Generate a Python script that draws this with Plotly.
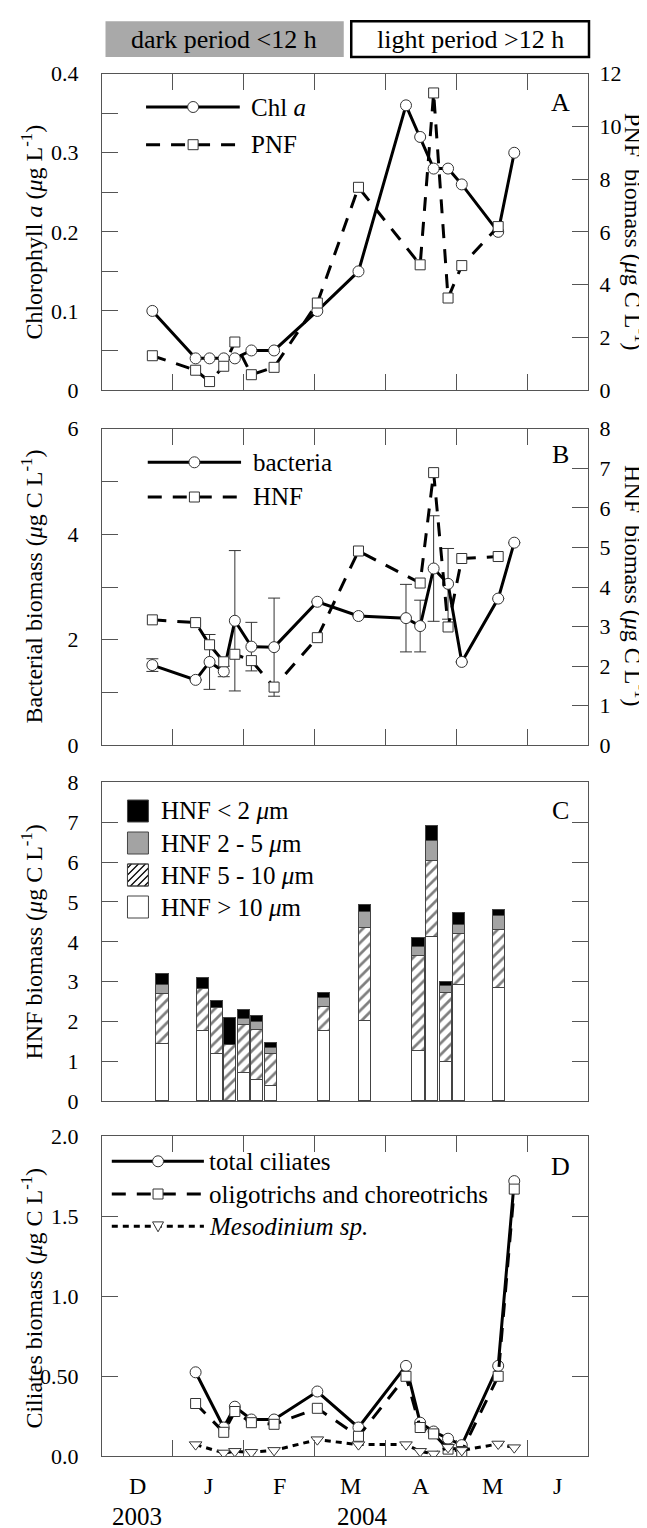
import plotly.graph_objects as go

W, H = 647, 1528
L_PX, R_PX = 93.5, 580.0
PW = R_PX - L_PX
XMAX = 205.6  # days since 1 Dec 2003 at right frame

# ---------------- data ----------------
days = [21.3, 39.6, 45.5, 51.5, 56.2, 63.2, 72.8, 91.1, 108.5, 128.6, 134.6, 140.3, 146.4, 152.2, 167.6, 174.4]
chl_a = [0.10, 0.04, 0.04, 0.04, 0.04, 0.05, 0.05, 0.10, 0.15, 0.36, 0.32, 0.28, 0.28, 0.26, 0.20, 0.30]

pnf_days = [21.3, 39.6, 45.5, 51.5, 56.2, 63.2, 72.8, 91.1, 108.5, 134.6, 140.3, 146.4, 152.2, 167.6]
pnf = [1.30, 0.75, 0.32, 0.90, 1.82, 0.58, 0.86, 3.30, 7.69, 4.75, 11.27, 3.49, 4.72, 6.20]

bacteria = [1.52, 1.24, 1.58, 1.40, 2.36, 1.87, 1.86, 2.72, 2.45, 2.41, 2.26, 3.35, 3.06, 1.58, 2.78, 3.84]
bacteria_err = [0.12, 0, 0.52, 0.10, 1.33, 0.46, 0.93, 0, 0, 0.64, 0.49, 1.00, 0.67, 0, 0, 0]

hnf_days = [21.3, 39.6, 45.5, 51.5, 56.2, 63.2, 72.8, 91.1, 108.5, 134.6, 140.3, 146.4, 152.2, 167.6]
hnf = [3.17, 3.10, 2.54, 2.11, 2.30, 2.14, 1.47, 2.72, 4.91, 4.10, 6.89, 2.99, 4.72, 4.77]

bar_days = [25.6, 42.8, 48.5, 54.2, 59.9, 65.6, 71.3, 94.1, 111.2, 133.9, 139.6, 145.4, 151.0, 168.1]
hnf_gt10 = [1.44, 1.76, 1.19, 0.00, 0.69, 0.52, 0.38, 1.76, 2.01, 1.25, 4.11, 0.98, 2.92, 2.83]
hnf_5_10 = [1.25, 1.06, 1.15, 1.40, 1.21, 1.25, 0.81, 0.61, 2.33, 2.39, 1.90, 1.72, 1.26, 1.46]
hnf_2_5 = [0.21, 0.00, 0.00, 0.00, 0.15, 0.22, 0.15, 0.22, 0.39, 0.21, 0.51, 0.18, 0.23, 0.35]
hnf_lt2 = [0.28, 0.27, 0.17, 0.67, 0.23, 0.14, 0.11, 0.12, 0.19, 0.23, 0.38, 0.11, 0.30, 0.14]

cil_days = [39.6, 51.5, 56.2, 63.2, 72.8, 91.1, 108.5, 128.6, 134.6, 140.3, 146.4, 152.2, 167.6, 174.4]
total_ciliates = [0.525, 0.18, 0.31, 0.23, 0.23, 0.405, 0.18, 0.565, 0.21, 0.155, 0.11, 0.07, 0.565, 1.72]
oligo_choreo = [0.33, 0.15, 0.28, 0.21, 0.20, 0.30, 0.125, 0.50, 0.18, 0.14, 0.045, 0.03, 0.50, 1.67]
mesodinium = [0.073, 0.021, 0.031, 0.025, 0.037, 0.104, 0.073, 0.073, 0.031, 0.015, 0.056, 0.037, 0.077, 0.054]

month_starts = [0, 30, 60, 90, 120, 150, 180]
month_labels = ["D", "J", "F", "M", "A", "M", "J"]
year_labels = ["2003", "2004"]
year_pos = [15, 110]

# ---------------- helpers ----------------
def px(x):
    return (x - L_PX) / PW

def py(y):
    return 1 - y / H

def ydom(top, bot):
    return [1 - bot / H, 1 - top / H]

FONT = "'Liberation Serif', 'Times New Roman', 'DejaVu Serif', serif"
GREY = "#555555"
MK_LINE = dict(color="#333333", width=1)

panels = {"A": (65.7, 382.0), "B": (420.7, 737.3), "C": (774.3, 1093.3), "D": (1128.3, 1448.3)}

fig = go.Figure()

# Panel A
fig.add_trace(go.Scatter(x=days, y=chl_a, xaxis="x", yaxis="y", mode="lines+markers",
                         line=dict(color="black", width=3),
                         marker=dict(symbol="circle", size=11, color="white", line=MK_LINE)))
fig.add_trace(go.Scatter(x=pnf_days, y=pnf, xaxis="x", yaxis="y2", mode="lines+markers",
                         line=dict(color="black", width=3, dash="14px,11px"),
                         marker=dict(symbol="square", size=10, color="white", line=MK_LINE)))

# Panel B
fig.add_trace(go.Scatter(x=days, y=bacteria, xaxis="x2", yaxis="y3", mode="lines+markers",
                         line=dict(color="black", width=3),
                         error_y=dict(type="data", array=bacteria_err, visible=True,
                                      color="#333333", thickness=1, width=6),
                         marker=dict(symbol="circle", size=11, color="white", line=MK_LINE)))
fig.add_trace(go.Scatter(x=hnf_days, y=hnf, xaxis="x2", yaxis="y4", mode="lines+markers",
                         line=dict(color="black", width=3, dash="14px,11px"),
                         marker=dict(symbol="square", size=10, color="white", line=MK_LINE)))

# Panel C (stacked bars)
bar_line = dict(color="#444444", width=1)
BW = 5.1
fig.add_trace(go.Bar(x=bar_days, y=hnf_gt10, width=BW, xaxis="x3", yaxis="y5",
                     marker=dict(color="white", line=bar_line)))
fig.add_trace(go.Bar(x=bar_days, y=hnf_5_10, width=BW, xaxis="x3", yaxis="y5",
                     marker=dict(color="white", line=bar_line,
                                 pattern=dict(shape="/", fgcolor="black", bgcolor="white",
                                              size=8, solidity=0.34))))
fig.add_trace(go.Bar(x=bar_days, y=hnf_2_5, width=BW, xaxis="x3", yaxis="y5",
                     marker=dict(color="#a3a3a3", line=bar_line)))
fig.add_trace(go.Bar(x=bar_days, y=hnf_lt2, width=BW, xaxis="x3", yaxis="y5",
                     marker=dict(color="black", line=bar_line)))

# Panel D
fig.add_trace(go.Scatter(x=cil_days, y=total_ciliates, xaxis="x4", yaxis="y6", mode="lines+markers",
                         line=dict(color="black", width=3),
                         marker=dict(symbol="circle", size=11, color="white", line=MK_LINE)))
fig.add_trace(go.Scatter(x=cil_days, y=oligo_choreo, xaxis="x4", yaxis="y6", mode="lines+markers",
                         line=dict(color="black", width=3, dash="14px,11px"),
                         marker=dict(symbol="square", size=10, color="white", line=MK_LINE)))
fig.add_trace(go.Scatter(x=cil_days, y=mesodinium, xaxis="x4", yaxis="y6", mode="lines+markers",
                         line=dict(color="black", width=3, dash="6px,5px"),
                         marker=dict(symbol="triangle-down", size=11, color="white", line=MK_LINE)))

# ---------------- axes ----------------
base = dict(showline=True, linecolor=GREY, linewidth=1.3, ticks="inside", ticklen=16,
            tickcolor=GREY, tickwidth=1.3, showgrid=False, zeroline=False,
            tickfont=dict(size=22, color="black", family=FONT), ticklabelstandoff=18)

def minor_ticks(vals):
    return dict(tickmode="array", tickvals=vals, ticks="inside", ticklen=16,
                tickcolor=GREY, tickwidth=1.3, showgrid=False)

xbase = dict(base, range=[0, XMAX], tickvals=month_starts[1:], showticklabels=False, mirror="ticks")

def fmt(v):
    return ("%g" % v)

layout_axes = {}
layout_axes["xaxis"] = dict(xbase, domain=[0, 1], anchor="y")
layout_axes["xaxis2"] = dict(xbase, domain=[0, 1], anchor="y3")
layout_axes["xaxis3"] = dict(base, domain=[0, 1], anchor="y5", range=[0, XMAX], ticks="",
                             showticklabels=False, mirror=True)
layout_axes["xaxis4"] = dict(xbase, domain=[0, 1], anchor="y6")

a_major = [0, 0.1, 0.2, 0.3, 0.4]
a_minor = [0.05, 0.15, 0.25, 0.35]
layout_axes["yaxis"] = dict(base, domain=ydom(*panels["A"]), anchor="x", range=[0, 0.4],
                            tickvals=a_major, ticktext=["0", "0.1", "0.2", "0.3", "0.4"],
                            minor=minor_ticks(a_minor))
layout_axes["yaxis2"] = dict(base, overlaying="y", side="right", anchor="x", range=[0, 12],
                             tickvals=list(range(0, 13, 2)), ticktext=[fmt(v) for v in range(0, 13, 2)],
                             ticklabelstandoff=6)
layout_axes["yaxis3"] = dict(base, domain=ydom(*panels["B"]), anchor="x2", range=[0, 6],
                             tickvals=[0, 2, 4, 6], ticktext=["0", "2", "4", "6"],
                             minor=minor_ticks([1, 3, 5]))
layout_axes["yaxis4"] = dict(base, overlaying="y3", side="right", anchor="x2", range=[0, 8],
                             tickvals=list(range(0, 9)), ticktext=[fmt(v) for v in range(0, 9)],
                             ticklabelstandoff=6)
layout_axes["yaxis5"] = dict(base, domain=ydom(*panels["C"]), anchor="x3", range=[0, 8],
                             tickvals=list(range(0, 9)), ticktext=[fmt(v) for v in range(0, 9)],
                             mirror="ticks")
layout_axes["yaxis6"] = dict(base, domain=ydom(*panels["D"]), anchor="x4", range=[0, 2],
                             tickvals=[0, 0.5, 1, 1.5, 2], ticktext=["0.0", "0.50", "1.0", "1.5", "2.0"],
                             mirror="ticks")

# ---------------- shapes & annotations ----------------
shapes = []
ann = []

def text(x, y, s, size=25, xanchor="left", angle=0, xref="paper"):
    ann.append(dict(x=x if xref != "paper" else px(x), y=py(y), xref=xref, yref="paper", text=s,
                    showarrow=False, xanchor=xanchor, yanchor="middle", textangle=angle,
                    font=dict(size=size, color="black", family=FONT)))

def hline(x0, x1, y, dash="solid"):
    shapes.append(dict(type="line", xref="paper", yref="paper", x0=px(x0), x1=px(x1), y0=py(y), y1=py(y),
                       line=dict(color="black", width=3, dash=dash)))

def circle(cx, cy, r=5.5):
    shapes.append(dict(type="circle", xref="paper", yref="paper", x0=px(cx - r), x1=px(cx + r),
                       y0=py(cy + r), y1=py(cy - r), fillcolor="white", line=MK_LINE))

def square(cx, cy, r=5):
    shapes.append(dict(type="rect", xref="paper", yref="paper", x0=px(cx - r), x1=px(cx + r),
                       y0=py(cy + r), y1=py(cy - r), fillcolor="white", line=MK_LINE))

def tri_down(cx, cy, r=5.5):
    path = "M%f,%f L%f,%f L%f,%f Z" % (px(cx - r), py(cy - r * 0.8), px(cx + r), py(cy - r * 0.8),
                                       px(cx), py(cy + r))
    shapes.append(dict(type="path", xref="paper", yref="paper", path=path, fillcolor="white", line=MK_LINE))

def box(x0, x1, y0, y1, fill, lw=1, lc="#444444"):
    shapes.append(dict(type="rect", xref="paper", yref="paper", x0=px(x0), x1=px(x1), y0=py(y1), y1=py(y0),
                       fillcolor=fill, line=dict(color=lc, width=lw)))

# top period boxes
box(97, 335.5, 13.3, 49, "#a9a9a9", lw=0, lc="rgba(0,0,0,0)")
box(343, 581, 13.3, 49, "white", lw=2.5, lc="black")
text(216, 31.5, "dark period &lt;12 h", size=26, xanchor="center")
text(462, 31.5, "light period &gt;12 h", size=26, xanchor="center")

# panel letters
for k, yy in zip("ABCD", [94, 447, 803, 1158]):
    text(552, yy, k, size=26, xanchor="center")

# legend A
hline(137.6, 231.4, 99)
circle(184.7, 99)
text(241, 99, "Chl <i>a</i>")
hline(137.6, 231.4, 136.7, dash="14px,11px")
square(184.7, 136.7)
text(241, 136.7, "PNF")

# legend B
hline(139.3, 232.7, 454.3)
circle(186, 454.3)
text(242.7, 454.3, "bacteria")
hline(139.3, 232.7, 489, dash="14px,11px")
square(186, 489)
text(242.7, 489, "HNF")

# legend C
c_rows = [803, 835, 867, 899]
c_labels = ["HNF &lt; 2 <i>μ</i>m", "HNF 2 - 5 <i>μ</i>m", "HNF 5 - 10 <i>μ</i>m", "HNF &gt; 10 <i>μ</i>m"]
c_fill = ["black", "#a3a3a3", "white", "white"]
for yc, lab, f in zip(c_rows, c_labels, c_fill):
    box(119, 140, yc - 11, yc + 11, f)
    text(150.7, yc, lab)
# hatch lines in third box
hx0, hx1, hy0, hy1 = 119, 140, c_rows[2] - 11, c_rows[2] + 11
segs = []
c = hx0 + hy0 + 4
while c < hx1 + hy1:
    xa = max(hx0, c - hy1)
    xb = min(hx1, c - hy0)
    if xb > xa:
        segs.append("M%f,%f L%f,%f" % (px(xa), py(c - xa), px(xb), py(c - xb)))
    c += 7
shapes.append(dict(type="path", xref="paper", yref="paper", path=" ".join(segs),
                   line=dict(color="black", width=1.2)))
box(119, 140, hy0, hy1, "rgba(0,0,0,0)")

# legend D
hline(103.3, 195.5, 1153.3)
circle(149.6, 1153.3)
text(198.3, 1153.3, "total ciliates")
hline(103.3, 195.5, 1186, dash="14px,11px")
square(149.6, 1186)
text(198.3, 1186, "oligotrichs and choreotrichs")
hline(103.3, 195.5, 1218.3, dash="6px,5px")
tri_down(149.6, 1218.3)
text(198.3, 1218.3, "<i>Mesodinium sp.</i>")

# axis titles
mu = "<i>μ</i>"
TX = 23
text(TX, 224, "Chlorophyll <i>a</i> (" + mu + "g L<sup>-1</sup>)", size=24, xanchor="center", angle=-90)
text(627, 224, "PNF  biomass (" + mu + "g C L<sup>-1</sup>)", size=24, xanchor="center", angle=90)
text(TX, 579, "Bacterial biomass (" + mu + "g C L<sup>-1</sup>)", size=24, xanchor="center", angle=-90)
text(627, 578, "HNF  biomass (" + mu + "g C L<sup>-1</sup>)", size=24, xanchor="center", angle=90)
text(TX, 934, "HNF biomass (" + mu + "g C L<sup>-1</sup>)", size=24, xanchor="center", angle=-90)
text(TX, 1290, "Ciliates biomass (" + mu + "g C L<sup>-1</sup>)", size=24, xanchor="center", angle=-90)

# month and year labels (data x on panel D axis)
for i, lab in enumerate(month_labels):
    a = month_starts[i]
    b = min(a + 30, XMAX)
    text((a + b) / 2, 1478, lab, size=24, xanchor="center", xref="x4")
for lab, xp in zip(year_labels, year_pos):
    text(xp, 1508, lab, size=25, xanchor="center", xref="x4")

fig.update_layout(
    width=W, height=H,
    margin=dict(l=L_PX, r=W - R_PX, t=0, b=0, autoexpand=False),
    paper_bgcolor="white", plot_bgcolor="white",
    showlegend=False, barmode="stack", bargap=0,
    font=dict(family=FONT, color="black"),
    shapes=shapes, annotations=ann,
    **layout_axes,
)

fig.write_html("out.html")
